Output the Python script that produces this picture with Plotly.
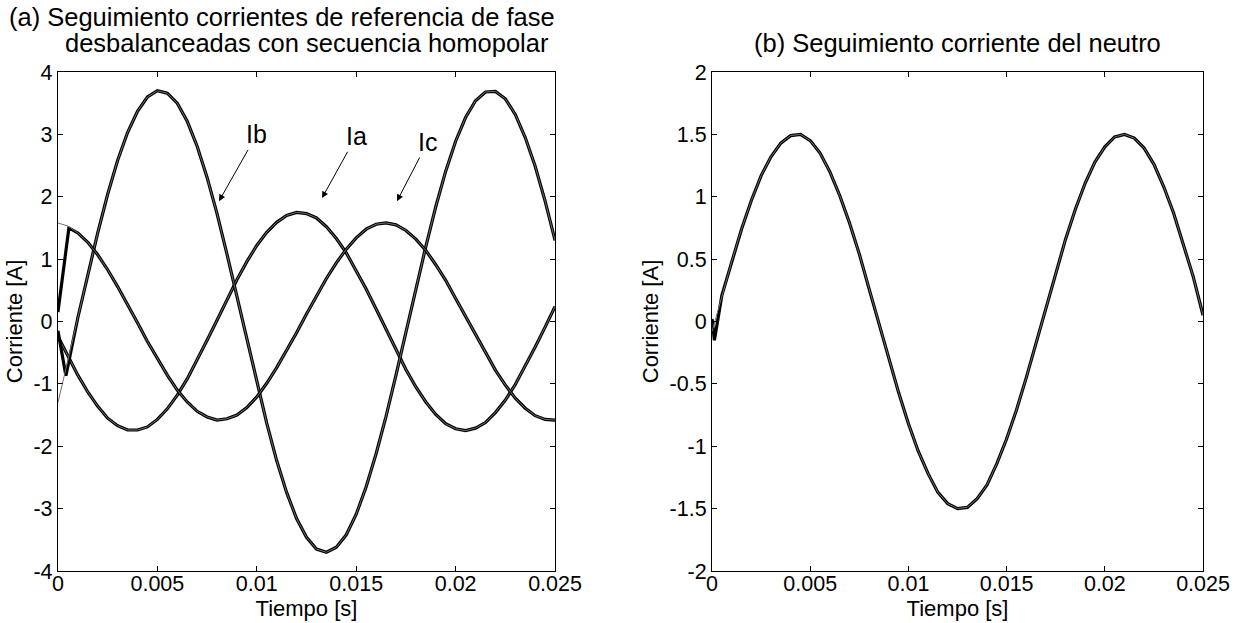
import plotly.graph_objects as go

# time grid [s]
time_s = [0.0, 0.0005, 0.001, 0.0015, 0.002, 0.0025, 0.003, 0.0035, 0.004, 0.0045,
          0.005, 0.0055, 0.006, 0.0065, 0.007, 0.0075, 0.008, 0.0085, 0.009, 0.0095,
          0.01, 0.0105, 0.011, 0.0115, 0.012, 0.0125, 0.013, 0.0135, 0.014, 0.0145,
          0.015, 0.0155, 0.016, 0.0165, 0.017, 0.0175, 0.018, 0.0185, 0.019, 0.0195,
          0.02, 0.0205, 0.021, 0.0215, 0.022, 0.0225, 0.023, 0.0235, 0.024, 0.0245, 0.025]

# reference phase currents [A]
ia_ref = [-0.24, -0.56, -0.86, -1.13, -1.36, -1.55, -1.67, -1.74, -1.74, -1.69,
          -1.57, -1.40, -1.18, -0.92, -0.62, -0.30, 0.02, 0.35, 0.67, 0.96,
          1.22, 1.43, 1.59, 1.70, 1.75, 1.73, 1.66, 1.52, 1.33, 1.10,
          0.82, 0.52, 0.20, -0.13, -0.46, -0.77, -1.05, -1.29, -1.49, -1.64,
          -1.72, -1.75, -1.71, -1.62, -1.46, -1.26, -1.01, -0.72, -0.41, -0.09, 0.24]
ib_ref = [-1.30, -0.63, 0.06, 0.76, 1.42, 2.04, 2.58, 3.03, 3.37, 3.60,
          3.70, 3.66, 3.50, 3.21, 2.81, 2.31, 1.73, 1.08, 0.40, -0.30,
          -0.98, -1.63, -2.23, -2.74, -3.16, -3.46, -3.65, -3.70, -3.62, -3.42,
          -3.09, -2.65, -2.12, -1.52, -0.86, -0.17, 0.53, 1.20, 1.84, 2.41,
          2.89, 3.27, 3.54, 3.68, 3.69, 3.57, 3.32, 2.95, 2.49, 1.93, 1.30]
ic_ref = [1.58, 1.53, 1.42, 1.27, 1.07, 0.83, 0.56, 0.28, -0.02, -0.32,
          -0.60, -0.86, -1.10, -1.29, -1.44, -1.53, -1.58, -1.56, -1.50, -1.38,
          -1.21, -0.99, -0.74, -0.47, -0.18, 0.12, 0.41, 0.69, 0.94, 1.16,
          1.34, 1.48, 1.56, 1.58, 1.55, 1.46, 1.32, 1.14, 0.91, 0.66,
          0.37, 0.08, -0.22, -0.51, -0.78, -1.02, -1.23, -1.39, -1.51, -1.57, -1.58]
# reference neutral current [A]
in_ref = [-0.08, 0.21, 0.48, 0.74, 0.97, 1.17, 1.32, 1.43, 1.49, 1.50,
          1.45, 1.35, 1.20, 1.01, 0.79, 0.54, 0.26, -0.02, -0.30, -0.57,
          -0.82, -1.04, -1.22, -1.37, -1.46, -1.50, -1.49, -1.42, -1.31, -1.14,
          -0.94, -0.71, -0.45, -0.17, 0.11, 0.39, 0.66, 0.90, 1.11, 1.28,
          1.40, 1.48, 1.50, 1.47, 1.39, 1.26, 1.08, 0.87, 0.62, 0.36, 0.05]

# start-up transient of the measured currents (before they join the reference)
ib_start_t = [0.0, 0.0004]
ib_start_v = [-0.15, -0.87]
ic_start_t = [0.0, 0.00055]
ic_start_v = [0.15, 1.50]
in_start_t = [0.0, 0.00012]
in_start_v = [0.02, -0.15]

x_ticks = [0, 0.005, 0.01, 0.015, 0.02, 0.025]
x_tick_text = ["0", "0.005", "0.01", "0.015", "0.02", "0.025"]
y1_ticks = [-4, -3, -2, -1, 0, 1, 2, 3, 4]
y1_tick_text = ["-4", "-3", "-2", "-1", "0", "1", "2", "3", "4"]
y2_ticks = [-2, -1.5, -1, -0.5, 0, 0.5, 1, 1.5, 2]
y2_tick_text = ["-2", "-1.5", "-1", "-0.5", "0", "0.5", "1", "1.5", "2"]

FONT = "Liberation Sans, Arial, sans-serif"
REF_COLOR = "#707070"
MEAS_COLOR = "#000000"

fig = go.Figure()

def add_pair(t_ref, v_ref, t_meas, v_meas, xa, ya):
    fig.add_trace(go.Scatter(x=t_meas, y=v_meas, mode="lines",
                             line=dict(color=MEAS_COLOR, width=3.2),
                             xaxis=xa, yaxis=ya, showlegend=False, hoverinfo="skip"))
    fig.add_trace(go.Scatter(x=t_ref, y=v_ref, mode="lines",
                             line=dict(color=REF_COLOR, width=1),
                             xaxis=xa, yaxis=ya, showlegend=False, hoverinfo="skip"))

# left panel
add_pair(time_s, ia_ref, time_s, ia_ref, "x", "y")
add_pair(time_s, ib_ref, ib_start_t + time_s[2:], ib_start_v + ib_ref[2:], "x", "y")
add_pair(time_s, ic_ref, ic_start_t + time_s[2:], ic_start_v + ic_ref[2:], "x", "y")
# right panel
add_pair(time_s, in_ref, in_start_t + time_s[1:], in_start_v + in_ref[1:], "x2", "y2")

axis_common = dict(showline=True, linecolor="black", linewidth=1.2, mirror="ticks",
                   ticks="inside", ticklen=5, tickcolor="black", tickwidth=1,
                   showgrid=False, zeroline=False, automargin=False,
                   tickfont=dict(family=FONT, size=21.5, color="black"))
axis_title_font = dict(family=FONT, size=22, color="black")

fig.update_layout(
    width=1249, height=623, autosize=False,
    margin=dict(l=0, r=0, t=0, b=0, autoexpand=False),
    paper_bgcolor="white", plot_bgcolor="white",
    font=dict(family=FONT, color="black"),
    xaxis=dict(domain=[0.0464, 0.4444], range=[0, 0.025], tickvals=x_ticks,
               ticktext=x_tick_text, anchor="y", ticklabelstandoff=-7,
               title=dict(text="Tiempo [s]", font=axis_title_font, standoff=0),
               **axis_common),
    yaxis=dict(domain=[0.0835, 0.8844], range=[-4, 4], tickvals=y1_ticks,
               ticktext=y1_tick_text, anchor="x",
               title=dict(text="Corriente [A]", font=axis_title_font, standoff=4),
               **axis_common),
    xaxis2=dict(domain=[0.5701, 0.9632], range=[0, 0.025], tickvals=x_ticks,
                ticktext=x_tick_text, anchor="y2", ticklabelstandoff=-7,
                title=dict(text="Tiempo [s]", font=axis_title_font, standoff=0),
                **axis_common),
    yaxis2=dict(domain=[0.0835, 0.8844], range=[-2, 2], tickvals=y2_ticks,
                ticktext=y2_tick_text, anchor="x2",
                title=dict(text="Corriente [A]", font=axis_title_font, standoff=4),
                **axis_common),
)

# panel titles
title_font = dict(family=FONT, size=25.5, color="black")
fig.add_annotation(text="(a) Seguimiento corrientes de referencia de fase", xref="paper", yref="paper",
                   x=0.2254, y=1 - 17 / 623, xanchor="center", yanchor="middle",
                   showarrow=False, font=title_font)
fig.add_annotation(text="desbalanceadas con secuencia homopolar", xref="paper", yref="paper",
                   x=0.2454, y=1 - 43 / 623, xanchor="center", yanchor="middle",
                   showarrow=False, font=title_font)
fig.add_annotation(text="(b) Seguimiento corriente del neutro", xref="paper", yref="paper",
                   x=0.7666, y=1 - 43 / 623, xanchor="center", yanchor="middle",
                   showarrow=False, font=title_font)

# curve labels with arrows
labels = ["Ib", "Ia", "Ic"]
label_pos = [(0.0100, 3.0), (0.0150, 2.97), (0.0186, 2.88)]
arrow_tip = [(0.0081, 1.93), (0.01328, 1.98), (0.01705, 1.93)]
for name, (lx, ly), (tx, ty) in zip(labels, label_pos, arrow_tip):
    fig.add_annotation(text=name, x=tx, y=ty, ax=lx, ay=ly, xref="x", yref="y",
                       axref="x", ayref="y", showarrow=True, arrowhead=2, arrowsize=1.3,
                       arrowwidth=1, arrowcolor="black", standoff=0, startstandoff=0,
                       font=dict(family=FONT, size=25, color="black"))

fig.write_html("out.html")
